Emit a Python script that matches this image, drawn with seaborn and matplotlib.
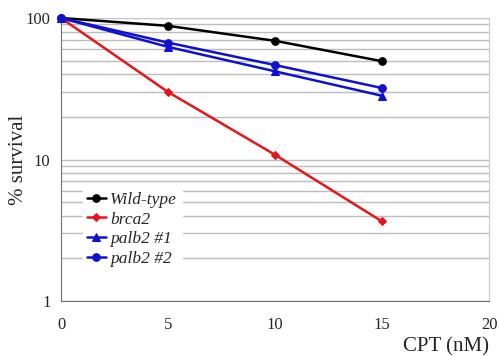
import numpy as np
import pandas as pd
import matplotlib
matplotlib.use("Agg")
import matplotlib.pyplot as plt
import seaborn as sns
from matplotlib.ticker import LogLocator, NullFormatter

sns.set_style("white")
plt.rcParams['font.family'] = ['Liberation Serif', 'DejaVu Serif']

cpt = [0, 5, 10, 15]
wild_type = [100, 88, 69, 49.5]
brca2 = [100, 30, 10.8, 3.65]
palb2_1 = [100, 62.5, 42, 28.2]
palb2_2 = [100, 67, 46.5, 32]

names = ["Wild-type", "brca2", "palb2 #1", "palb2 #2"]
colors = ["black", "#e8141c", "#1010d0", "#1010d0"]
markers = ["o", "D", "^", "o"]
sizes = [5.5, 4, 5.5, 5.5]

df = pd.DataFrame({
    "cpt": cpt * 4,
    "survival": wild_type + brca2 + palb2_1 + palb2_2,
    "line": sum([[n] * 4 for n in names], []),
})

fig = plt.figure(figsize=(4.97, 3.56), dpi=100)
ax = fig.add_axes([61 / 497, 1 - 301 / 356, 428 / 497, 283 / 356])

for n, c, m, s in zip(names, colors, markers, sizes):
    sns.lineplot(data=df[df["line"] == n], x="cpt", y="survival", color=c,
                 marker=m, markersize=s, markeredgecolor=c, linewidth=1.8,
                 label=n, ax=ax, zorder=3, clip_on=False)

ax.set_yscale("log")
ax.set_ylim(1, 100)
ax.set_xlim(0, 20)
ax.set_xticks([0, 5, 10, 15, 20])
ax.set_yticks([1, 10, 100])
ax.set_yticklabels(["1", "10", "100"])
ax.yaxis.set_minor_locator(LogLocator(base=10, subs=np.arange(2, 10)))
ax.yaxis.set_minor_formatter(NullFormatter())
ax.grid(True, which="both", axis="y", color="#bcbcbc", linewidth=1.0)
ax.tick_params(axis="both", which="major", labelsize=12, length=5, direction="inout", color="#707070")
ax.tick_params(axis="y", which="minor", length=0)
ax.tick_params(axis="x", pad=9)
ax.tick_params(axis="y", pad=5)
for side in ["left", "bottom"]:
    ax.spines[side].set_color("#707070")
for side in ["right", "top"]:
    ax.spines[side].set_color("#c8c8c8")

ax.set_xlabel("CPT (nM)", fontsize=15, loc="right", labelpad=3)
ax.set_ylabel("% survival", fontsize=15)
ax.yaxis.set_label_coords(-0.077, 0.5)

leg = ax.legend(loc="lower left", bbox_to_anchor=(0.03, 0.075), frameon=True,
                fontsize=12.5, handlelength=1.1, handletextpad=0.25,
                labelspacing=0.2, borderpad=0.25)
leg.get_frame().set_edgecolor("white")
leg.get_frame().set_facecolor("white")
leg.get_frame().set_alpha(1)
for t in leg.get_texts():
    t.set_style("italic")

fig.savefig("out.png", dpi=100)
